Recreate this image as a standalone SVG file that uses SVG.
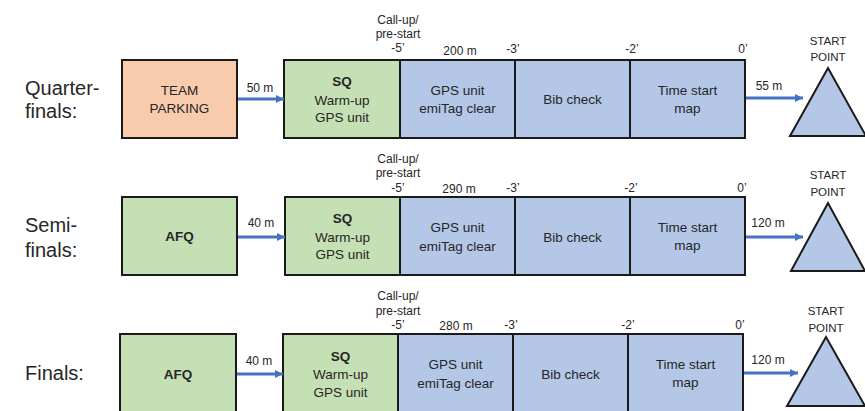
<svg xmlns="http://www.w3.org/2000/svg" width="865" height="411" viewBox="0 0 865 411">
<defs>
<style>
text{font-family:"Liberation Sans",Arial,sans-serif;fill:#262626}
.row{font-size:20px}
.bx{font-size:13.5px;text-anchor:middle}
.b{font-weight:bold}
.sm{font-size:12px;text-anchor:middle}
.sp{font-size:11.5px;text-anchor:middle}
.box{stroke:#1a1a1a;stroke-width:2}
.or{fill:#F8CBAD}
.gr{fill:#C5E0B4}
.bl{fill:#B4C7E7}
.arr{stroke:#4472C4;stroke-width:3;fill:none;marker-end:url(#ah)}
</style>
<marker id="ah" markerUnits="userSpaceOnUse" markerWidth="9" markerHeight="9" refX="8" refY="4.5" orient="auto" viewBox="0 0 9 9">
<path d="M0,0.5 L8,4.5 L0,8.5 z" fill="#4472C4"/>
</marker>
</defs>
<rect width="865" height="411" fill="#ffffff"/>

<!-- Row labels -->
<g id="labels">
<text class="row" x="25" y="95">Quarter-</text>
<text class="row" x="25" y="118">finals:</text>
<text class="row" x="25" y="232">Semi-</text>
<text class="row" x="25" y="257">finals:</text>
<text class="row" x="25" y="380">Finals:</text>
</g>

<!-- Timeline labels -->
<g id="timeline">
<text class="sm" x="398" y="24">Call-up/</text>
<text class="sm" x="398" y="38">pre-start</text>
<text class="sm" x="398" y="52">-5’</text>
<text class="sm" x="460" y="55">200 m</text>
<text class="sm" x="513" y="53">-3’</text>
<text class="sm" x="632" y="53">-2’</text>
<text class="sm" x="743" y="53">0’</text>

<text class="sm" x="398" y="163">Call-up/</text>
<text class="sm" x="398" y="177">pre-start</text>
<text class="sm" x="398" y="192">-5’</text>
<text class="sm" x="459" y="193">290 m</text>
<text class="sm" x="513" y="192">-3’</text>
<text class="sm" x="631" y="192">-2’</text>
<text class="sm" x="742" y="192">0’</text>

<text class="sm" x="398" y="300">Call-up/</text>
<text class="sm" x="398" y="315">pre-start</text>
<text class="sm" x="398" y="329">-5’</text>
<text class="sm" x="456" y="330">280 m</text>
<text class="sm" x="511" y="329">-3’</text>
<text class="sm" x="628" y="329">-2’</text>
<text class="sm" x="740" y="329">0’</text>
</g>

<!-- Row 1 -->
<g id="qf-parking">
<rect class="box or" x="122" y="60" width="115" height="78"/>
<text class="bx" x="179.5" y="95">TEAM</text>
<text class="bx" x="179.5" y="113">PARKING</text>
</g>
<g id="qf-sq">
<rect class="box gr" x="284" y="60" width="116" height="78"/>
<text class="bx b" x="342" y="86">SQ</text>
<text class="bx" x="342" y="105">Warm-up</text>
<text class="bx" x="342" y="122">GPS unit</text>
</g>
<g id="qf-gps">
<rect class="box bl" x="400" y="60" width="115" height="78"/>
<text class="bx" x="457.5" y="95">GPS unit</text>
<text class="bx" x="457.5" y="113">emiTag clear</text>
</g>
<g id="qf-bib">
<rect class="box bl" x="515" y="60" width="115" height="78"/>
<text class="bx" x="572.5" y="104">Bib check</text>
</g>
<g id="qf-time">
<rect class="box bl" x="630" y="60" width="115" height="78"/>
<text class="bx" x="687.5" y="95">Time start</text>
<text class="bx" x="687.5" y="113">map</text>
</g>
<g id="qf-start">
<polygon class="box bl" points="828,68 790,136 866,136"/>
<text class="sp" x="828" y="45">START</text>
<text class="sp" x="828" y="61">POINT</text>
</g>

<!-- Row 2 -->
<g id="sf-afq">
<rect class="box gr" x="122" y="197" width="115" height="78"/>
<text class="bx b" x="179.5" y="241">AFQ</text>
</g>
<g id="sf-sq">
<rect class="box gr" x="285" y="197" width="115" height="78"/>
<text class="bx b" x="342.5" y="223">SQ</text>
<text class="bx" x="342.5" y="242">Warm-up</text>
<text class="bx" x="342.5" y="259">GPS unit</text>
</g>
<g id="sf-gps">
<rect class="box bl" x="400" y="197" width="115" height="78"/>
<text class="bx" x="457.5" y="232">GPS unit</text>
<text class="bx" x="457.5" y="251">emiTag clear</text>
</g>
<g id="sf-bib">
<rect class="box bl" x="515" y="197" width="115" height="78"/>
<text class="bx" x="572.5" y="242">Bib check</text>
</g>
<g id="sf-time">
<rect class="box bl" x="630" y="197" width="115" height="78"/>
<text class="bx" x="687.5" y="232">Time start</text>
<text class="bx" x="687.5" y="250">map</text>
</g>
<g id="sf-start">
<polygon class="box bl" points="828,203 791,271 865,271"/>
<text class="sp" x="828" y="179">START</text>
<text class="sp" x="828" y="196">POINT</text>
</g>

<!-- Row 3 -->
<g id="f-afq">
<rect class="box gr" x="120" y="334" width="116" height="78"/>
<text class="bx b" x="178" y="379">AFQ</text>
</g>
<g id="f-sq">
<rect class="box gr" x="283" y="334" width="115" height="78"/>
<text class="bx b" x="340.5" y="361">SQ</text>
<text class="bx" x="340.5" y="379">Warm-up</text>
<text class="bx" x="340.5" y="397">GPS unit</text>
</g>
<g id="f-gps">
<rect class="box bl" x="398" y="334" width="115" height="78"/>
<text class="bx" x="455.5" y="369">GPS unit</text>
<text class="bx" x="455.5" y="388">emiTag clear</text>
</g>
<g id="f-bib">
<rect class="box bl" x="513" y="334" width="115" height="78"/>
<text class="bx" x="570.5" y="379">Bib check</text>
</g>
<g id="f-time">
<rect class="box bl" x="628" y="334" width="115" height="78"/>
<text class="bx" x="685.5" y="369">Time start</text>
<text class="bx" x="685.5" y="387">map</text>
</g>
<g id="f-start">
<polygon class="box bl" points="826,337 787,406 865,406"/>
<text class="sp" x="826" y="315">START</text>
<text class="sp" x="826" y="332">POINT</text>
</g>

<!-- Connectors -->
<g id="connectors">
<line class="arr" x1="238" y1="99" x2="284" y2="99"/>
<text class="sm" x="260" y="92">50 m</text>
<line class="arr" x1="746" y1="98" x2="803" y2="98"/>
<text class="sm" x="769" y="90">55 m</text>

<line class="arr" x1="238" y1="237" x2="285" y2="237"/>
<text class="sm" x="261" y="227">40 m</text>
<line class="arr" x1="746" y1="237" x2="803" y2="237"/>
<text class="sm" x="768" y="227">120 m</text>

<line class="arr" x1="237" y1="374" x2="283" y2="374"/>
<text class="sm" x="259" y="365">40 m</text>
<line class="arr" x1="744" y1="373" x2="798" y2="373"/>
<text class="sm" x="768" y="364">120 m</text>
</g>
</svg>
